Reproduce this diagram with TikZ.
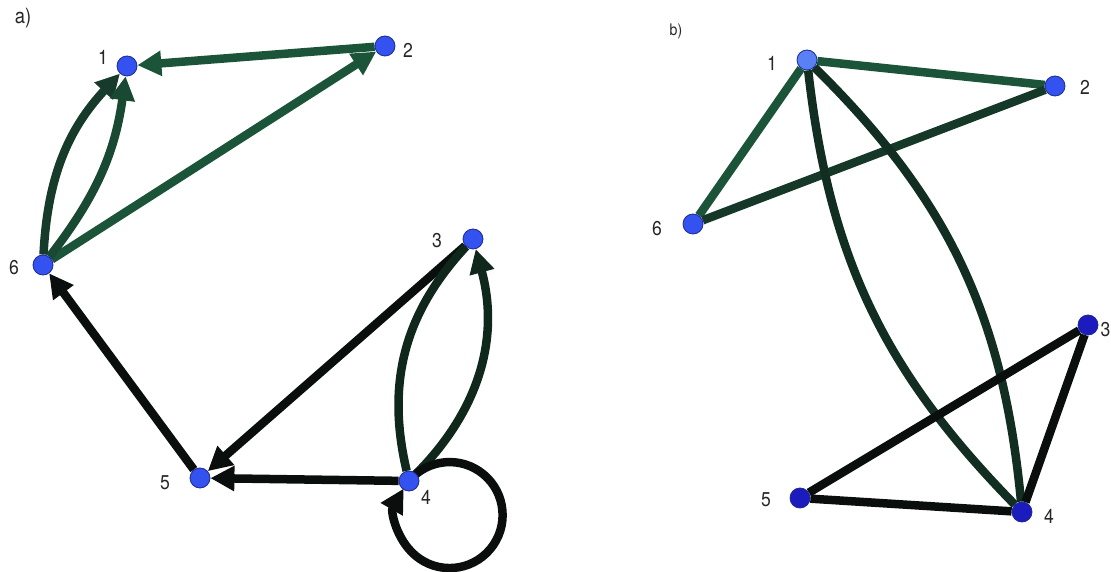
\documentclass[tikz,border=0pt]{standalone}
\usepackage{fontspec}
\setmainfont{TeX Gyre Heros}[FakeStretch=0.88]
\usetikzlibrary{arrows.meta,backgrounds}
\definecolor{eg}{RGB}{28,84,58}
\definecolor{ek}{RGB}{10,14,12}
\definecolor{nb}{RGB}{52,82,240}
\definecolor{nbl}{RGB}{90,128,245}
\definecolor{nbd}{RGB}{28,28,190}
\definecolor{nedge}{RGB}{30,40,150}
\begin{document}
\begin{tikzpicture}[x=1pt,y=1pt,
  vtx/.style={circle,inner sep=0pt,minimum size=20pt,fill=nb,draw=nedge,line width=0.8pt},
  lab/.style={font=\fontsize{20}{20}\selectfont,inner sep=0pt,text=black!85},
  edg/.style={line width=8.5pt,line cap=butt},
  arr/.style={-{Triangle[length=24pt,width=24pt]}},
]
\useasboundingbox (0,0) rectangle (1111,571);
% ---------- part a ----------
\node[lab,font=\fontsize{21}{21}\selectfont] (la) at (23,553) {a)};
\node[vtx] (a1) at (127,505) {};
\node[vtx] (a2) at (385,525) {};
\node[vtx] (a6) at (43,306) {};
\node[vtx] (a3) at (473,332) {};
\node[vtx] (a5) at (200,93) {};
\node[vtx] (a4) at (409,90) {};
\node[lab] (la1) at (103,514) {1};
\node[lab] (la2) at (408,521) {2};
\node[lab] (la6) at (14,303) {6};
\node[lab] (la3) at (437,330) {3};
\node[lab] (la5) at (165,88) {5};
\node[lab] (la4) at (426,74) {4};
% ---------- part b ----------
\node[lab,font=\fontsize{16}{16}\selectfont] (lb) at (676,540) {b)};
\node[vtx,fill=nbl] (b1) at (807,511) {};
\node[vtx] (b2) at (1055,485) {};
\node[vtx] (b6) at (693,347) {};
\node[vtx,fill=nbd] (b3) at (1088,246) {};
\node[vtx,fill=nbd] (b5) at (800,73) {};
\node[vtx,fill=nbd] (b4) at (1022,59) {};
\node[lab] (lb1) at (772,508) {1};
\node[lab] (lb2) at (1085,484) {2};
\node[lab] (lb6) at (657,342) {6};
\node[lab] (lb3) at (1105.5,241) {3};
\node[lab] (lb5) at (766,71) {5};
\node[lab] (lb4) at (1049,55) {4};
\begin{scope}[on background layer]
  % a edges
  \draw[edg,arr,eg] (a2) -- (a1);
  \draw[edg,arr,eg] (a6) -- (a2);
  \draw[edg,arr,eg!65!ek] (a6) to[bend left=20] (a1);
  \draw[edg,arr,eg!85!ek] (a6) to[bend right=15] (a1);
  \draw[edg,arr,ek] (a5) -- (a6);
  \draw[edg,arr,ek] (a3) -- (a5);
  \draw[edg,arr,ek] (a4) -- (a5);
  \draw[edg,arr,eg!35!ek] (a4) to[bend right=30] (a3);
  \draw[edg,eg!35!ek] (a4) to[bend left=28] (a3);
  \draw[edg,arr,ek] (a4.center) arc[start angle=140,end angle=-210,radius=53];
  % b edges
  \draw[edg,eg] (b1) -- (b2);
  \draw[edg,eg] (b1) -- (b6);
  \draw[edg,eg!60!ek] (b6) -- (b2);
  \draw[edg,eg!45!ek] (b1) to[bend right=19] (b4);
  \draw[edg,eg!45!ek] (b1) to[bend left=20] (b4);
  \draw[edg,ek] (b5) -- (b3);
  \draw[edg,ek] (b5) -- (b4);
  \draw[edg,ek] (b3) -- (b4);
\end{scope}
\end{tikzpicture}
\end{document}
